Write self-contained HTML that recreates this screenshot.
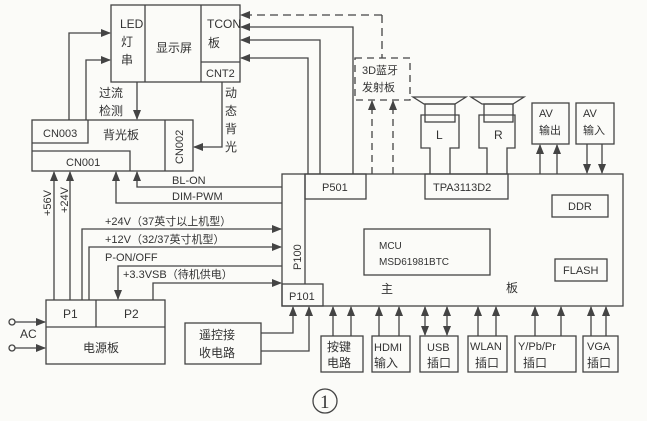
<!DOCTYPE html>
<html><head><meta charset="utf-8"><style>
html,body{margin:0;padding:0;background:#fbfbf8;}
svg{display:block;}
text{font-family:"Liberation Sans","Noto Sans CJK SC",sans-serif;fill:#333;}
</style></head><body>
<svg width="647" height="421" viewBox="0 0 647 421" xmlns="http://www.w3.org/2000/svg" font-size="12">
<defs>
<marker id="a" markerWidth="10" markerHeight="8" refX="9" refY="4" orient="auto" markerUnits="userSpaceOnUse"><path d="M0,0 L10,4 L0,8 Z" fill="#444"/></marker>
</defs>
<g stroke="#444" stroke-width="1.3" fill="none">
<rect x="111" y="5" width="129" height="77"/>
<line x1="145" y1="5" x2="145" y2="82"/><line x1="201" y1="5" x2="201" y2="82"/>
<line x1="201" y1="62" x2="240" y2="62"/>
<rect x="32" y="120" width="161" height="51"/>
<path d="M32,143 H88 V120"/><path d="M32,151 H130 V171"/>
<line x1="165" y1="120" x2="165" y2="171"/>
<path d="M69,120 V33 H110" marker-end="url(#a)"/>
<path d="M86,120 V60 H110" marker-end="url(#a)"/>
<path d="M137,82 V119" marker-end="url(#a)"/>
<path d="M222,82 V147 H194" marker-end="url(#a)"/>
<path d="M382,15 H241" stroke-dasharray="8,5" marker-end="url(#a)"/>
<path d="M382,15 V58" stroke-dasharray="8,5"/>
<path d="M353,174 V27 H241" marker-end="url(#a)"/>
<path d="M320,174 V40 H241" marker-end="url(#a)"/>
<path d="M308,174 V58 H241" marker-end="url(#a)"/>
<rect x="355" y="58" width="55" height="42" stroke-dasharray="7,5"/>
<path d="M372,174 V101" stroke-dasharray="7,5" marker-end="url(#a)"/>
<path d="M393,174 V101" stroke-dasharray="7,5" marker-end="url(#a)"/>
<rect x="282" y="174" width="341" height="132"/>
<path d="M305,174 V284"/>
<rect x="305" y="174" width="61" height="25"/>
<rect x="282" y="284" width="41" height="22"/>
<rect x="425" y="174" width="83" height="25"/>
<rect x="552" y="195" width="56" height="22"/>
<rect x="555" y="259" width="52" height="22"/>
<rect x="364" y="229" width="126" height="46"/>
<path d="M413,97 H466 L455,104 H424 Z"/><rect x="425" y="104" width="30" height="18"/>
<path d="M430,174 V148 H421 V115 H459 V148 H450 V174"/>
<path d="M471,97 H524 L513,104 H482 Z"/><rect x="484" y="104" width="29" height="18"/>
<path d="M487,174 V148 H479 V115 H515 V148 H507 V174"/>
<rect x="532" y="103" width="37" height="41"/><rect x="576" y="103" width="38" height="41"/>
<path d="M540,174 V145" marker-end="url(#a)"/><path d="M557,174 V145" marker-end="url(#a)"/>
<path d="M587,144 V173" marker-end="url(#a)"/><path d="M602,144 V173" marker-end="url(#a)"/>
<path d="M282,187 H137 V172" marker-end="url(#a)"/>
<path d="M282,203 H116 V172" marker-end="url(#a)"/>
<path d="M54,300 V172" marker-end="url(#a)"/>
<path d="M70,300 V172" marker-end="url(#a)"/>
<path d="M82,300 V229 H281" marker-end="url(#a)"/>
<path d="M89,300 V247 H281" marker-end="url(#a)"/>
<path d="M282,266 H118 V299" marker-end="url(#a)"/>
<path d="M153,300 V283 H281" marker-end="url(#a)"/>
<rect x="46" y="300" width="119" height="64"/>
<line x1="46" y1="327" x2="165" y2="327"/><line x1="96" y1="300" x2="96" y2="327"/>
<circle cx="12" cy="322" r="3"/><circle cx="12" cy="348" r="3"/>
<path d="M15,322 H45" marker-end="url(#a)"/><path d="M15,348 H45" marker-end="url(#a)"/>
<rect x="185" y="323" width="76" height="41"/>
<path d="M261,333 H293 V307" marker-end="url(#a)"/>
<path d="M261,351 H309 V307" marker-end="url(#a)"/>
<rect x="321" y="336" width="42" height="36"/>
<rect x="372" y="336" width="38" height="36"/>
<rect x="420" y="336" width="38" height="36"/>
<rect x="468" y="336" width="39" height="36"/>
<rect x="515" y="336" width="61" height="36"/>
<rect x="583" y="336" width="35" height="36"/>
<path d="M333,336 V307" marker-end="url(#a)"/><path d="M351,336 V307" marker-end="url(#a)"/>
<path d="M379,336 V307" marker-end="url(#a)"/><path d="M399,336 V307" marker-end="url(#a)"/>
<path d="M425,318 V307" marker-end="url(#a)"/><path d="M425,318 V335" marker-end="url(#a)"/>
<path d="M447,318 V307" marker-end="url(#a)"/><path d="M447,318 V335" marker-end="url(#a)"/>
<path d="M478,336 V307" marker-end="url(#a)"/><path d="M496,336 V307" marker-end="url(#a)"/>
<path d="M535,336 V307" marker-end="url(#a)"/><path d="M561,336 V307" marker-end="url(#a)"/>
<path d="M591,336 V307" marker-end="url(#a)"/><path d="M606,336 V307" marker-end="url(#a)"/>
<circle cx="325" cy="401" r="12"/>
</g>
<g>
<text x="120" y="28">LED</text><text x="121" y="46">灯</text><text x="121" y="64">串</text>
<text x="156" y="52">显示屏</text>
<text x="207" y="28">TCON</text><text x="208" y="47">板</text>
<text x="206" y="77" font-size="11">CNT2</text>
<text x="99" y="97">过流</text><text x="99" y="115">检测</text>
<text x="225" y="97">动</text><text x="225" y="115">态</text><text x="225" y="133">背</text><text x="225" y="151">光</text>
<text x="43" y="137" font-size="11">CN003</text><text x="103" y="139">背光板</text>
<text x="66" y="166" font-size="11">CN001</text>
<text transform="translate(183,164) rotate(-90)" font-size="11">CN002</text>
<text x="172" y="184" font-size="11">BL-ON</text>
<text x="172" y="200" font-size="11">DIM-PWM</text>
<text transform="translate(51,216) rotate(-90)" font-size="11">+56V</text>
<text transform="translate(68,213) rotate(-90)" font-size="11">+24V</text>
<text x="105" y="225" font-size="11">+24V（37英寸以上机型）</text>
<text x="105" y="243" font-size="11">+12V（32/37英寸机型）</text>
<text x="105" y="261" font-size="11">P-ON/OFF</text>
<text x="123" y="278" font-size="11">+3.3VSB（待机供电）</text>
<text transform="translate(301,270) rotate(-90)" font-size="11">P100</text>
<text x="289" y="300" font-size="11">P101</text>
<text x="322" y="191" font-size="11">P501</text>
<text x="433" y="191" font-size="11">TPA3113D2</text>
<text x="362" y="74" font-size="11">3D蓝牙</text><text x="362" y="91" font-size="11">发射板</text>
<text x="436" y="139">L</text><text x="494" y="139">R</text>
<text x="539" y="117" font-size="11">AV</text><text x="539" y="134" font-size="11">输出</text>
<text x="583" y="117" font-size="11">AV</text><text x="583" y="134" font-size="11">输入</text>
<text x="568" y="210" font-size="11">DDR</text>
<text x="563" y="274" font-size="11">FLASH</text>
<text x="379" y="249" font-size="10">MCU</text><text x="379" y="265" font-size="10">MSD61981BTC</text>
<text x="381" y="293">主</text><text x="506" y="292">板</text>
<text x="63" y="318">P1</text><text x="124" y="318">P2</text>
<text x="20" y="338">AC</text>
<text x="83" y="352">电源板</text>
<text x="199" y="339">遥控接</text><text x="199" y="357">收电路</text>
<text x="327" y="351">按键</text><text x="327" y="367">电路</text>
<text x="374" y="351" font-size="11">HDMI</text><text x="374" y="367">输入</text>
<text x="427" y="351" font-size="11">USB</text><text x="427" y="367">插口</text>
<text x="470" y="350" font-size="11">WLAN</text><text x="475" y="367">插口</text>
<text x="518" y="350" font-size="11">Y/Pb/Pr</text><text x="523" y="367">插口</text>
<text x="587" y="350" font-size="11">VGA</text><text x="587" y="367">插口</text>
<text x="320" y="408" style="font-family:'Liberation Serif',serif;font-size:19px">1</text>
</g>
</svg>
</body></html>
